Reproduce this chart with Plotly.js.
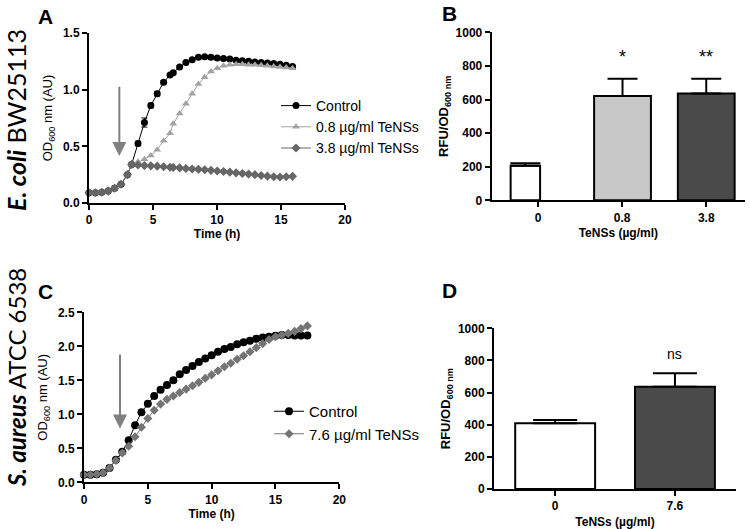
<!DOCTYPE html>
<html>
<head>
<meta charset="utf-8">
<script src="https://cdn.plot.ly/plotly-3.0.1.min.js"></script>
<style>html,body{margin:0;padding:0;background:#fff}#chart{width:750px;height:529px}</style>
</head>
<body>
<div id="chart"></div>
<script>
// ---------- Panel A: E. coli growth ----------
const timeA = [0,0.5,1,1.5,2,2.5,3,3.33,3.83,4.33,4.83,5.33,5.83,6.33,6.58,7.08,7.57,8.06,8.55,9.04,9.53,10.02,10.51,11.0,11.49,11.98,12.47,12.96,13.45,13.94,14.43,14.92,15.41,15.9];
const controlA = [0.09,0.09,0.095,0.105,0.13,0.165,0.25,0.34,0.525,0.71,0.86,0.965,1.065,1.13,1.15,1.20,1.24,1.265,1.285,1.29,1.285,1.28,1.275,1.27,1.26,1.255,1.25,1.245,1.24,1.235,1.23,1.225,1.215,1.205];
const controlErrA = [0,0,0,0,0,0,0.01,0.01,0.02,0.04,0.02,0.02,0.015,0.01,0.01,0.01,0.01,0.01,0.01,0.01,0.01,0.01,0.01,0.01,0.01,0.01,0.01,0.01,0.01,0.01,0.01,0.01,0.01,0.01];
const tenss08A = [0.09,0.09,0.095,0.105,0.13,0.165,0.25,0.34,0.365,0.385,0.42,0.47,0.55,0.615,0.70,0.79,0.875,0.965,1.05,1.11,1.16,1.19,1.21,1.22,1.225,1.225,1.22,1.22,1.215,1.21,1.205,1.20,1.195,1.19];
const tenss38A = [0.09,0.09,0.095,0.105,0.13,0.165,0.25,0.34,0.335,0.33,0.328,0.325,0.32,0.315,0.313,0.31,0.305,0.30,0.297,0.293,0.288,0.283,0.278,0.272,0.266,0.26,0.255,0.25,0.243,0.237,0.232,0.23,0.232,0.235];
const namesA = ['Control','0.8 µg/ml TeNSs','3.8 µg/ml TeNSs'];
const treatmentTimeA = 2.37;

// ---------- Panel B: E. coli fluorescence ----------
const catsB = ['0','0.8','3.8'];
const meanB = [205,621,635];
const semB = [15,103,89];
const sigB = ['','*','**'];

// ---------- Panel C: S. aureus growth ----------
const timeC = [0,0.5,1,1.5,2,2.5,3,3.5,4,4.5,5,5.5,6,6.5,7,7.5,8,8.5,9,9.5,10,10.5,11,11.5,12,12.5,13,13.5,14,14.5,15,15.5,16,16.5,17,17.5];
const controlC = [0.11,0.11,0.12,0.14,0.21,0.33,0.45,0.62,0.84,1.03,1.156,1.27,1.36,1.43,1.50,1.59,1.65,1.71,1.77,1.82,1.87,1.92,1.96,1.99,2.03,2.06,2.08,2.11,2.13,2.14,2.155,2.165,2.165,2.16,2.16,2.16];
const tenss76C = [0.11,0.11,0.12,0.14,0.21,0.32,0.43,0.53,0.67,0.81,0.94,1.06,1.15,1.22,1.27,1.32,1.37,1.42,1.47,1.53,1.58,1.64,1.70,1.75,1.81,1.86,1.92,1.98,2.04,2.10,2.14,2.165,2.19,2.22,2.26,2.30];
const namesC = ['Control','7.6 µg/ml TeNSs'];
const treatmentTimeC = 2.82;

// ---------- Panel D: S. aureus fluorescence ----------
const catsD = ['0','7.6'];
const meanD = [409,637];
const semD = [20,83];
const sigD = ['','ns'];

// ---------- styling ----------
const FAM = 'Liberation Sans, Arial, sans-serif';
const TICKFONT = {family:FAM, size:12, color:'#000', weight:'bold'};
const baseAxis = {
  showline:true, linecolor:'#000', linewidth:2, ticks:'outside', ticklen:5, tickwidth:2,
  tickcolor:'#000', showgrid:false, zeroline:false, fixedrange:true, tickfont:TICKFONT
};
function ax(extra){ return Object.assign({}, baseAxis, extra); }

const traces = [
  {x:timeA, y:controlA, name:namesA[0], type:'scatter', mode:'lines+markers', xaxis:'x', yaxis:'y', legend:'legend',
   line:{color:'#000', width:1}, marker:{symbol:'circle', size:7, color:'#000'}, cliponaxis:false,
   error_y:{type:'data', array:controlErrA, visible:true, color:'#000', thickness:1, width:3}},
  {x:timeA, y:tenss08A, name:namesA[1], type:'scatter', mode:'lines+markers', xaxis:'x', yaxis:'y', legend:'legend',
   line:{color:'#a3a3a3', width:1}, marker:{symbol:'triangle-up', size:7, color:'#a3a3a3'}, cliponaxis:false},
  {x:timeA, y:tenss38A, name:namesA[2], type:'scatter', mode:'lines+markers', xaxis:'x', yaxis:'y', legend:'legend',
   line:{color:'#666', width:1}, marker:{symbol:'diamond', size:7, color:'#666'}, cliponaxis:false},

  {x:catsB, y:meanB, type:'bar', xaxis:'x2', yaxis:'y2', showlegend:false,
   width:[0.35,0.675,0.675], offset:[-0.325,-0.333,-0.338],
   marker:{color:['#ffffff','#c8c8c8','#4a4a4a'], line:{color:'#000', width:2}},
   error_y:{type:'data', symmetric:false, array:semB, arrayminus:meanB.map(()=>0), color:'#000', thickness:2, width:15}},

  {x:timeC, y:controlC, name:namesC[0], type:'scatter', mode:'lines+markers', xaxis:'x3', yaxis:'y3', legend:'legend2',
   line:{color:'#000', width:1}, marker:{symbol:'circle', size:8, color:'#000'}, cliponaxis:false},
  {x:timeC, y:tenss76C, name:namesC[1], type:'scatter', mode:'lines+markers', xaxis:'x3', yaxis:'y3', legend:'legend2',
   line:{color:'#747474', width:1}, marker:{symbol:'diamond', size:7, color:'#747474'}, cliponaxis:false},

  {x:catsD, y:meanD, type:'bar', xaxis:'x4', yaxis:'y4', showlegend:false,
   width:0.667, offset:-0.333,
   marker:{color:['#ffffff','#4a4a4a'], line:{color:'#000', width:2}},
   error_y:{type:'data', symmetric:false, array:semD, arrayminus:meanD.map(()=>0), color:'#000', thickness:2, width:22}}
];

const annotations = [];
function panelLetter(t, x, y){
  annotations.push({text:'<b>'+t+'</b>', xref:'paper', yref:'paper', x:x/750, y:1-y/529, xanchor:'left', yanchor:'top',
    showarrow:false, font:{family:FAM, size:21, color:'#000'}});
}
panelLetter('A',36,3); panelLetter('B',440,0); panelLetter('C',36,278); panelLetter('D',440,277);

function rowLabel(html, yc, size){
  annotations.push({text:html, xref:'paper', yref:'paper', x:16/750, y:1-yc/529, xanchor:'center', yanchor:'middle',
    textangle:-90, showarrow:false, borderpad:0, font:{family:'Lato, Open Sans, sans-serif', size:size, color:'#000'}});
}
rowLabel('<b><i>E. coli</i></b> BW25113', 120, 25);
rowLabel('<b><i>S. aureus</i></b> ATCC 6538', 378, 24);

function arrow(xr, yr, t, yTop, yTip){
  annotations.push({x:t, y:yTip, ax:t, ay:yTop, xref:xr, yref:yr, axref:xr, ayref:yr, text:'', showarrow:true,
    arrowhead:2, arrowsize:1.4, arrowwidth:2, arrowcolor:'#808080'});
}
arrow('x','y',treatmentTimeA,1.04,0.415);
arrow('x3','y3',treatmentTimeC,1.9,0.79);

function sig(xr, yr, means, sems, labels, size){
  labels.forEach((s,i)=>{ if(!s) return;
    annotations.push({x:i, y:means[i]+sems[i]+60, xref:xr, yref:yr, text:s, showarrow:false, yanchor:'bottom',
      font:{family:FAM, size:size, color:'#000'}});
  });
}
sig('x2','y2',meanB,semB,sigB,18);
sig('x4','y4',meanD,semD,sigD,14);

const TITLEBOLD = {family:FAM, size:12, color:'#000', weight:'bold'};
const YTITLEBOLD = {family:FAM, size:13, color:'#000', weight:'bold'};

const layout = {
  width:750, height:529, margin:{l:0,r:0,t:0,b:0}, paper_bgcolor:'#fff', plot_bgcolor:'#fff',
  font:{family:FAM, color:'#000'},
  xaxis: ax({domain:[89/750,345/750], range:[0,20], dtick:5, anchor:'y',
    title:{text:'Time (h)', font:TITLEBOLD, standoff:3}}),
  yaxis: ax({domain:[1-203/529,1-33/529], range:[0,1.5], dtick:0.5, tickformat:'.1f', anchor:'x',
    title:{text:'OD<sub>600</sub> nm (AU)', font:{family:FAM, size:13, color:'#000'}, standoff:7}}),
  xaxis2: ax({domain:[491.7/750,745/750], range:[-0.55,2.46], type:'category', anchor:'y2',
    title:{text:'TeNSs (µg/ml)', font:TITLEBOLD, standoff:5}}),
  yaxis2: ax({domain:[1-200.3/529,1-32.3/529], range:[0,1000], dtick:200, anchor:'x2',
    title:{text:'<b>RFU/OD<sub>600 nm</sub></b>', font:YTITLEBOLD, standoff:4}}),
  xaxis3: ax({domain:[84/750,339.3/750], range:[0,20], dtick:5, anchor:'y3',
    title:{text:'Time (h)', font:TITLEBOLD, standoff:3}}),
  yaxis3: ax({domain:[1-482.3/529,1-312.3/529], range:[0,2.5], dtick:0.5, tickformat:'.1f', anchor:'x3',
    title:{text:'OD<sub>600</sub> nm (AU)', font:{family:FAM, size:13, color:'#000'}, standoff:7}}),
  xaxis4: ax({domain:[494/750,736/750], range:[-0.51,1.51], type:'category', anchor:'y4',
    title:{text:'TeNSs (µg/ml)', font:TITLEBOLD, standoff:9}}),
  yaxis4: ax({domain:[1-489/529,1-328.3/529], range:[0,1000], dtick:200, anchor:'x4',
    title:{text:'<b>RFU/OD<sub>600 nm</sub></b>', font:YTITLEBOLD, standoff:4}}),
  legend: {x:276/750, y:1-90/529, xanchor:'left', yanchor:'top', bgcolor:'rgba(0,0,0,0)',
    font:{family:FAM, size:14, color:'#000'}},
  legend2: {x:269/750, y:1-395/529, xanchor:'left', yanchor:'top', bgcolor:'rgba(0,0,0,0)',
    font:{family:FAM, size:15, color:'#000'}},
  annotations: annotations
};

Plotly.newPlot('chart', traces, layout, {displayModeBar:false, staticPlot:true});
</script>
</body>
</html>
